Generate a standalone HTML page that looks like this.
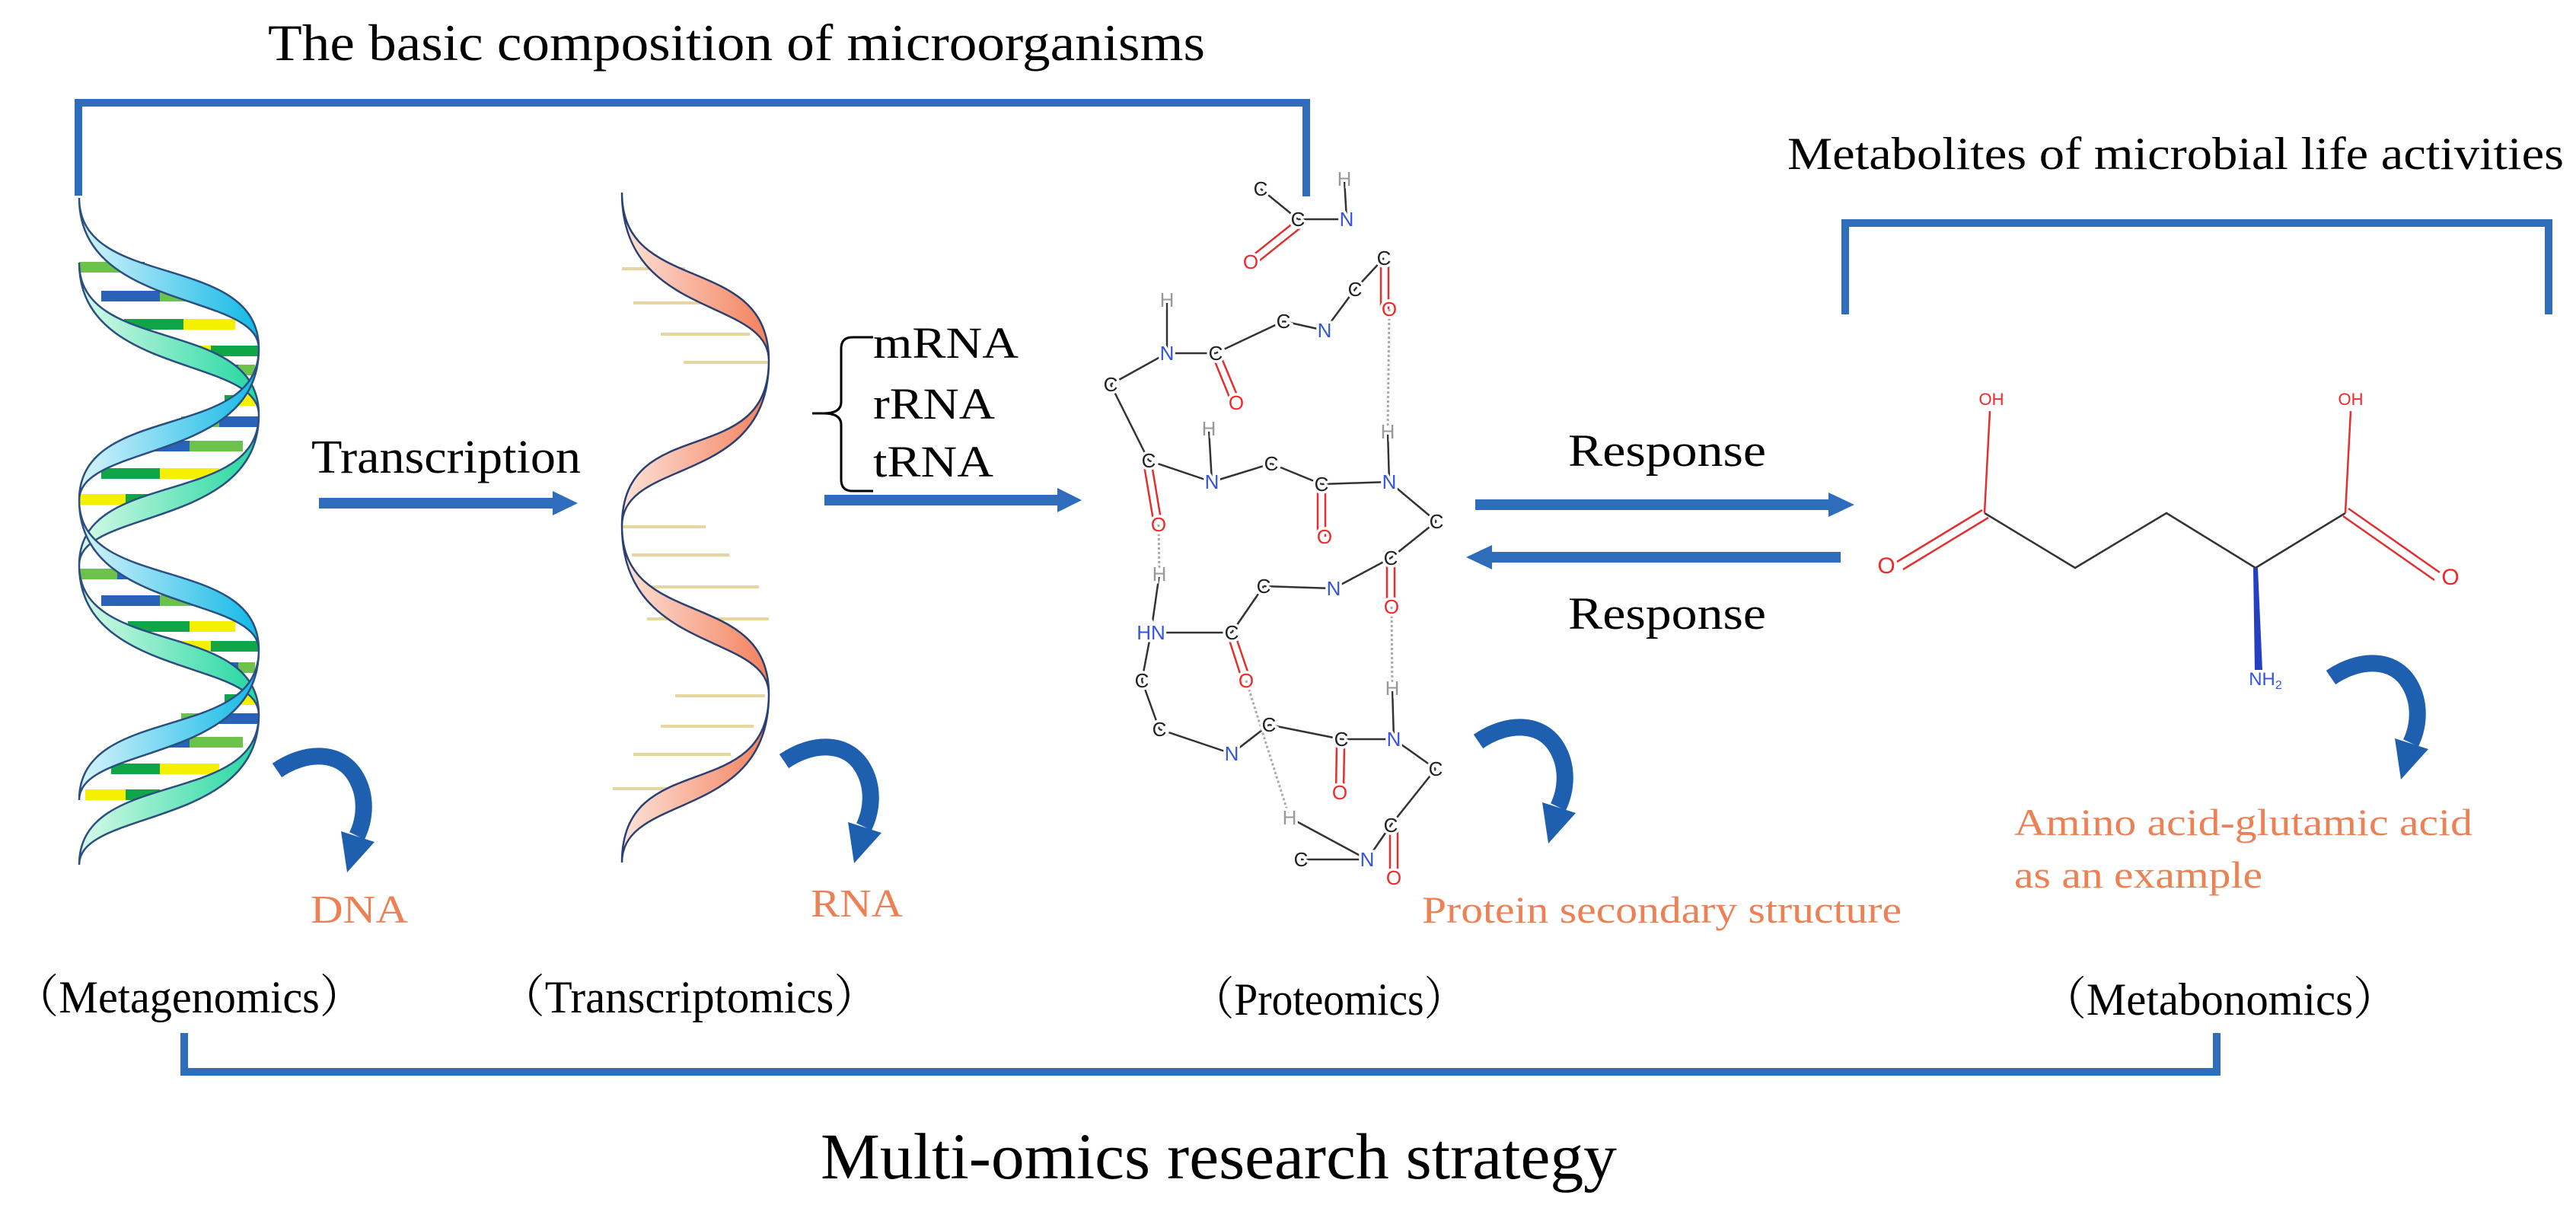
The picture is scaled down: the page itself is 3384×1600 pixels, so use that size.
<!DOCTYPE html>
<html><head><meta charset="utf-8"><style>
html,body{margin:0;padding:0;background:#fff;}
svg{display:block;}
.t{font-family:"Liberation Serif","Noto Serif CJK SC",serif;fill:#000;}
.o{font-family:"Liberation Serif","Noto Serif CJK SC",serif;fill:#EC8155;}
.a{font-family:"Liberation Sans",sans-serif;font-size:26px;text-anchor:middle;dominant-baseline:central;stroke:#fff;stroke-width:7px;paint-order:stroke;}
.C{fill:#222;} .N{fill:#3355E0;} .O{fill:#F0282A;} .H{fill:#999;}
</style></head><body>
<svg width="3384" height="1600" viewBox="0 0 3384 1600" xmlns="http://www.w3.org/2000/svg">
<defs>
<linearGradient id="gc" x1="0" y1="0" x2="1" y2="0"><stop offset="0" stop-color="#d8f4fb"/><stop offset="1" stop-color="#11b8e6"/></linearGradient>
<linearGradient id="gg" x1="0" y1="0" x2="1" y2="0"><stop offset="0" stop-color="#d8fbe8"/><stop offset="1" stop-color="#22d6a0"/></linearGradient>
<linearGradient id="gr" x1="0" y1="0" x2="1" y2="0"><stop offset="0" stop-color="#fde3d9"/><stop offset="1" stop-color="#f3805d"/></linearGradient>
<g id="carrow">
<path d="M12,32 C50,6 95,6 115,40 C130,65 128,95 117,118" fill="none" stroke="#1F5FB0" stroke-width="22"/>
<polygon points="96,112 140,126 104,166" fill="#1F5FB0"/>
</g>
</defs>

<!-- brackets -->
<g fill="none" stroke="#2E6CBC" stroke-width="10">
<polyline points="103,257 103,135 1716,135 1716,258"/>
<polyline points="2424,413 2424,293 3348,293 3348,413"/>
<polyline points="242,1357 242,1408 2912,1408 2912,1357"/>
</g>

<!-- titles -->
<text class="t" x="352" y="79" font-size="68" textLength="1231" lengthAdjust="spacingAndGlyphs">The basic composition of microorganisms</text>
<text class="t" x="2348" y="222" font-size="60" textLength="1020" lengthAdjust="spacingAndGlyphs">Metabolites of microbial life activities</text>
<text class="t" x="1078" y="1548" font-size="86" textLength="1046" lengthAdjust="spacingAndGlyphs">Multi-omics research strategy</text>

<!-- DNA base pairs -->
<g>
<rect x="104" y="344" width="56" height="14" fill="#6CC24A"/><rect x="160" y="344" width="30" height="14" fill="#2962B8"/>
<rect x="133" y="382" width="77" height="14" fill="#2962B8"/><rect x="210" y="382" width="36" height="14" fill="#6CC24A"/>
<rect x="163" y="419" width="78" height="14" fill="#0FA64A"/><rect x="241" y="419" width="68" height="14" fill="#F5F000"/>
<rect x="224" y="454" width="53" height="14" fill="#F5F000"/><rect x="277" y="454" width="63" height="14" fill="#0FA64A"/>
<rect x="295" y="479" width="18" height="14" fill="#2962B8"/><rect x="313" y="479" width="22" height="14" fill="#6CC24A"/>
<rect x="295" y="519" width="15" height="14" fill="#0FA64A"/><rect x="310" y="519" width="25" height="14" fill="#F5F000"/>
<rect x="238" y="547" width="50" height="14" fill="#6CC24A"/><rect x="288" y="547" width="52" height="14" fill="#2962B8"/>
<rect x="182" y="579" width="67" height="14" fill="#2962B8"/><rect x="249" y="579" width="70" height="14" fill="#6CC24A"/>
<rect x="133" y="615" width="77" height="14" fill="#0FA64A"/><rect x="210" y="615" width="78" height="14" fill="#F5F000"/>
<rect x="105" y="649" width="60" height="14" fill="#F5F000"/><rect x="165" y="649" width="45" height="14" fill="#0FA64A"/>
<rect x="104" y="747" width="50" height="14" fill="#6CC24A"/><rect x="154" y="747" width="30" height="14" fill="#2962B8"/>
<rect x="133" y="782" width="77" height="14" fill="#2962B8"/><rect x="210" y="782" width="64" height="14" fill="#6CC24A"/>
<rect x="168" y="816" width="81" height="14" fill="#0FA64A"/><rect x="249" y="816" width="60" height="14" fill="#F5F000"/>
<rect x="224" y="842" width="53" height="14" fill="#F5F000"/><rect x="277" y="842" width="63" height="14" fill="#0FA64A"/>
<rect x="295" y="870" width="18" height="14" fill="#2962B8"/><rect x="313" y="870" width="22" height="14" fill="#6CC24A"/>
<rect x="295" y="912" width="15" height="14" fill="#0FA64A"/><rect x="310" y="912" width="25" height="14" fill="#F5F000"/>
<rect x="238" y="937" width="50" height="14" fill="#6CC24A"/><rect x="288" y="937" width="52" height="14" fill="#2962B8"/>
<rect x="182" y="968" width="67" height="14" fill="#2962B8"/><rect x="249" y="968" width="70" height="14" fill="#6CC24A"/>
<rect x="146" y="1003" width="64" height="14" fill="#0FA64A"/><rect x="210" y="1003" width="78" height="14" fill="#F5F000"/>
<rect x="112" y="1037" width="53" height="14" fill="#F5F000"/><rect x="165" y="1037" width="45" height="14" fill="#0FA64A"/>
</g>
<!-- DNA strands -->
<g stroke="#2a4f80" stroke-width="2.5" fill="url(#gg)">
<path d="M104,345 C104,468 340,414 340,545 C340,468 104,495 104,345Z"/>
<path d="M340,545 C340,668 104,614 104,742 C104,668 340,695 340,545Z"/>
<path d="M104,742 C104,865 340,811 340,939 C340,865 104,892 104,742Z"/>
<path d="M340,939 C340,1062 104,1008 104,1136 C104,1062 340,1089 340,939Z"/>
</g>
<g stroke="#2a4f80" stroke-width="2.5" fill="url(#gc)">
<path d="M104,260 C104,383 340,329 340,458 C340,383 104,410 104,260Z"/>
<path d="M340,458 C340,581 104,527 104,657 C104,581 340,608 340,458Z"/>
<path d="M104,657 C104,780 340,726 340,854 C340,780 104,807 104,657Z"/>
<path d="M340,854 C340,977 104,923 104,1051 C104,977 340,1004 340,854Z"/>
</g>

<!-- RNA -->
<g stroke="#E8D6A0" stroke-width="4">
<line x1="817" y1="353" x2="900" y2="353"/><line x1="832" y1="398" x2="940" y2="398"/>
<line x1="868" y1="439" x2="985" y2="439"/><line x1="898" y1="476" x2="1010" y2="476"/>
<line x1="817" y1="692" x2="927" y2="692"/><line x1="830" y1="729" x2="958" y2="729"/>
<line x1="840" y1="771" x2="997" y2="771"/><line x1="850" y1="813" x2="1010" y2="813"/>
<line x1="887" y1="914" x2="1005" y2="914"/><line x1="868" y1="954" x2="990" y2="954"/>
<line x1="832" y1="991" x2="960" y2="991"/><line x1="805" y1="1036" x2="915" y2="1036"/>
</g>
<g stroke="#2a4070" stroke-width="2.5" fill="url(#gr)">
<path d="M817,253 C817,390 1010,330 1010,474 C1010,390 817,420 817,253Z"/>
<path d="M1010,474 C1010,620 817,540 817,691 C817,600 1010,640 1010,474Z"/>
<path d="M817,691 C817,830 1010,770 1010,912 C1010,830 817,860 817,691Z"/>
<path d="M1010,912 C1010,1060 817,980 817,1133 C817,1040 1010,1080 1010,912Z"/>
</g>

<!-- arrows -->
<g fill="#2E6CBC">
<rect x="419" y="654" width="310" height="14"/><polygon points="726,645 759,661 726,677"/>
<rect x="1083" y="650" width="310" height="14"/><polygon points="1389,641 1421,657 1389,673"/>
<rect x="1938" y="656" width="466" height="14"/><polygon points="2402,647 2436,663 2402,679"/>
<rect x="1958" y="725" width="460" height="14"/><polygon points="1960,716 1926,732 1960,748"/>
</g>
<text class="t" x="409" y="621" font-size="62" textLength="354" lengthAdjust="spacingAndGlyphs">Transcription</text>
<text class="t" x="2060" y="612" font-size="60" textLength="260" lengthAdjust="spacingAndGlyphs">Response</text>
<text class="t" x="2060" y="826" font-size="60" textLength="260" lengthAdjust="spacingAndGlyphs">Response</text>

<!-- brace -->
<path d="M1147,443 L1120,443 Q1105,443 1105,458 L1105,528 Q1105,543 1082,543 L1067,543 M1082,543 Q1105,543 1105,558 L1105,630 Q1105,645 1120,645 L1147,645" fill="none" stroke="#000" stroke-width="3"/>
<text class="t" x="1147" y="470" font-size="58" textLength="191" lengthAdjust="spacingAndGlyphs">mRNA</text>
<text class="t" x="1147" y="550" font-size="58" textLength="160" lengthAdjust="spacingAndGlyphs">rRNA</text>
<text class="t" x="1147" y="626" font-size="58" textLength="158" lengthAdjust="spacingAndGlyphs">tRNA</text>

<!-- protein bonds -->
<g stroke="#333" stroke-width="2.5" fill="none">
<path d="M1656,248L1705,288M1705,288L1769,288M1769,288L1766,235M1818,339L1780,380M1780,380L1740,434M1740,434L1686,422M1686,422L1597,464M1597,464L1533,464M1533,464L1533,394M1533,464L1459,505M1459,505L1509,605M1509,605L1592,633M1592,633L1588,563M1592,633L1670,609M1670,609L1736,636M1736,636L1825,633M1825,633L1823,567M1825,633L1887,685M1887,685L1827,733M1827,733L1752,773M1752,773L1660,770M1660,770L1618,831M1618,831L1512,831M1512,831L1523,754M1512,831L1500,894M1500,894L1523,958M1523,958L1618,990M1618,990L1667,952M1667,952L1762,971M1762,971L1831,971M1831,971L1829,904M1831,971L1886,1010M1886,1010L1827,1084M1827,1084L1796,1129M1796,1129L1709,1129M1796,1129L1694,1074"/>
</g>
<g stroke="#E03030" stroke-width="2.5" fill="none">
<path d="M1700,292L1640,340M1710,298L1650,346"/>
<path d="M1814,345L1814,406M1824,345L1824,406"/>
<path d="M1594,470L1618,529M1603,466L1628,526"/>
<path d="M1503,612L1516,689M1513,610L1526,688"/>
<path d="M1731,642L1731,705M1741,642L1741,705"/>
<path d="M1822,740L1822,797M1832,740L1832,797"/>
<path d="M1614,838L1632,894M1623,835L1642,891"/>
<path d="M1756,978L1755,1041M1766,978L1765,1041"/>
<path d="M1826,1090L1826,1153M1836,1090L1836,1153"/>
</g>
<g stroke="#aaa" stroke-width="3" stroke-dasharray="3,3" fill="none">
<path d="M1825,406L1823,567M1522,689L1523,754M1828,797L1829,904M1637,894L1694,1074"/>
</g>
<g class="a">
<text class="C" x="1656" y="248">C</text><text class="C" x="1705" y="288">C</text><text class="N" x="1769" y="288">N</text><text class="H" x="1766" y="235">H</text><text class="O" x="1643" y="344">O</text>
<text class="C" x="1818" y="339">C</text><text class="C" x="1780" y="380">C</text><text class="O" x="1825" y="406">O</text><text class="N" x="1740" y="434">N</text><text class="C" x="1686" y="422">C</text>
<text class="C" x="1597" y="464">C</text><text class="N" x="1533" y="464">N</text><text class="H" x="1533" y="394">H</text><text class="O" x="1624" y="529">O</text><text class="C" x="1459" y="505">C</text>
<text class="C" x="1509" y="605">C</text><text class="O" x="1522" y="689">O</text><text class="N" x="1592" y="633">N</text><text class="H" x="1588" y="563">H</text><text class="C" x="1670" y="609">C</text>
<text class="C" x="1736" y="636">C</text><text class="O" x="1740" y="705">O</text><text class="N" x="1825" y="633">N</text><text class="H" x="1823" y="567">H</text><text class="C" x="1887" y="685">C</text>
<text class="C" x="1827" y="733">C</text><text class="O" x="1828" y="797">O</text><text class="N" x="1752" y="773">N</text><text class="C" x="1660" y="770">C</text><text class="C" x="1618" y="831">C</text>
<text class="N" x="1512" y="831">HN</text><text class="H" x="1523" y="754">H</text><text class="O" x="1637" y="894">O</text><text class="C" x="1500" y="894">C</text><text class="C" x="1523" y="958">C</text>
<text class="N" x="1618" y="990">N</text><text class="C" x="1667" y="952">C</text><text class="C" x="1762" y="971">C</text><text class="O" x="1760" y="1041">O</text><text class="N" x="1831" y="971">N</text>
<text class="H" x="1829" y="904">H</text><text class="C" x="1886" y="1010">C</text><text class="C" x="1827" y="1084">C</text><text class="O" x="1831" y="1153">O</text><text class="N" x="1796" y="1129">N</text>
<text class="C" x="1709" y="1129">C</text><text class="H" x="1694" y="1074">H</text>
</g>

<!-- glutamic acid -->
<g stroke="#333" stroke-width="2.5" fill="none">
<path d="M2607,674L2726,746L2846,674L2963,746L3081,674"/>
</g>
<g stroke="#E03030" stroke-width="2.5" fill="none">
<path d="M2607,674L2614,540M3081,674L3088,540"/>
<path d="M2604,670L2492,738M2612,680L2500,748"/>
<path d="M3085,668L3205,752M3078,678L3198,762"/>
</g>
<polygon points="2960,746 2966,746 2972,880 2962,880" fill="#2440C0"/>
<g font-family="Liberation Sans,sans-serif" font-size="22" text-anchor="middle">
<text x="2616" y="532" fill="#F0282A">OH</text><text x="3088" y="532" fill="#F0282A">OH</text>
</g>
<g font-family="Liberation Sans,sans-serif" font-size="30" text-anchor="middle">
<text x="2478" y="753" fill="#F0282A">O</text><text x="3219" y="768" fill="#F0282A">O</text>
<text x="2976" y="900" fill="#3355E0" font-size="24">NH<tspan font-size="16" dy="5">2</tspan></text>
</g>

<!-- curved arrows -->
<use href="#carrow" x="352" y="980"/>
<use href="#carrow" x="1018" y="968"/>
<use href="#carrow" x="1930" y="942"/>
<use href="#carrow" x="3050" y="858"/>

<!-- orange labels -->
<text class="o" x="408" y="1212" font-size="52" textLength="128" lengthAdjust="spacingAndGlyphs">DNA</text>
<text class="o" x="1065" y="1204" font-size="52" textLength="121" lengthAdjust="spacingAndGlyphs">RNA</text>
<text class="o" x="1868" y="1212" font-size="50" textLength="630" lengthAdjust="spacingAndGlyphs">Protein secondary structure</text>
<text class="o" x="2646" y="1097" font-size="50" textLength="602" lengthAdjust="spacingAndGlyphs">Amino acid-glutamic acid</text>
<text class="o" x="2646" y="1166" font-size="50" textLength="326" lengthAdjust="spacingAndGlyphs">as an example</text>

<!-- omics labels -->
<text class="t" x="19" y="1330" font-size="60" textLength="459" lengthAdjust="spacingAndGlyphs">（Metagenomics）</text>
<text class="t" x="657" y="1330" font-size="60" textLength="497" lengthAdjust="spacingAndGlyphs">（Transcriptomics）</text>
<text class="t" x="1566" y="1333" font-size="60" textLength="360" lengthAdjust="spacingAndGlyphs">（Proteomics）</text>
<text class="t" x="2682" y="1333" font-size="60" textLength="468" lengthAdjust="spacingAndGlyphs">（Metabonomics）</text>
</svg>
</body></html>
